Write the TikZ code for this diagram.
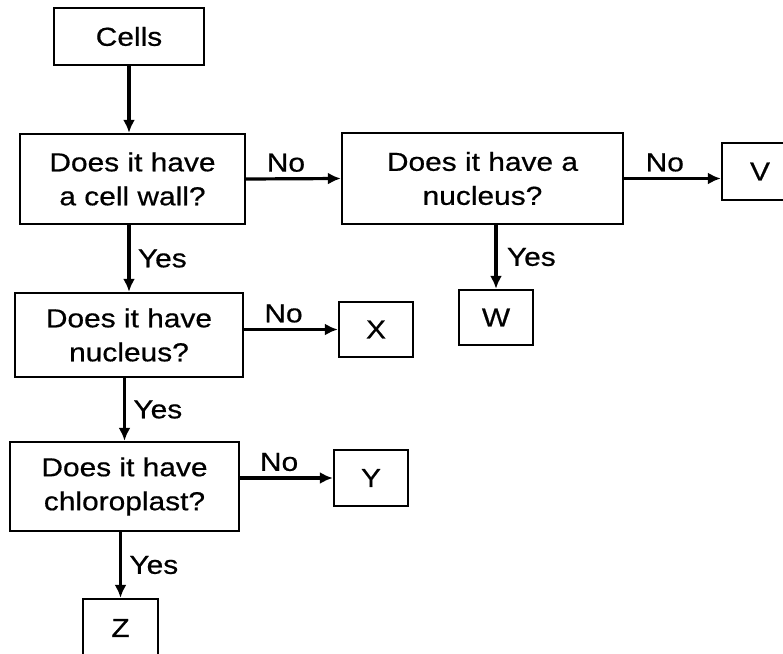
\documentclass[tikz,border=0pt]{standalone}
\usepackage{fontspec}
\setmainfont[FakeStretch=1.15, FakeBold=0.6]{Liberation Sans}
\usetikzlibrary{arrows.meta}

\begin{document}
\begin{tikzpicture}[x=1pt, y=-1pt,
    box/.style={draw, line width=2.4pt, inner sep=0pt, align=center, font=\fontsize{26}{34}\selectfont},
    arr/.style={line width=3.2pt, -{Latex[length=13pt, width=12pt]}},
    lbl/.style={font=\fontsize{26}{30}\selectfont}]
    \clip (0, 0) rectangle (783, 653);

    % Nodes
    \node[box, minimum width=150, minimum height=57] at (129, 36.5) (cells) {Cells};
    \node[box, minimum width=225, minimum height=90] at (132.5, 179) (wall) {Does it have\\a cell wall?};
    \node[box, minimum width=281, minimum height=91] at (482.5, 178.5) (nuc) {Does it have a\\nucleus?};
    \node[box, minimum width=76, minimum height=57] at (760, 171.5) (v) {V};
    \node[box, minimum width=74, minimum height=55] at (496, 317.5) (w) {W};
    \node[box, minimum width=228, minimum height=84] at (129, 335) (nucl) {Does it have\\nucleus?};
    \node[box, minimum width=74, minimum height=55] at (376, 329.5) (x) {X};
    \node[box, minimum width=229, minimum height=89] at (124.5, 486.5) (chl) {Does it have\\chloroplast?};
    \node[box, minimum width=74, minimum height=56] at (371, 478) (y) {Y};
    \node[box, minimum width=75, minimum height=58] at (120.5, 628) (z) {Z};

    % Yes goes down, No goes right
    \draw[arr] (cells) -- (cells.south |- wall.north);
    \draw[arr] (wall.east) -- (nuc.west) node[lbl, above, pos=0.42, yshift=2] {No};
    \draw[arr] (nuc.east) -- (nuc.east -| v.west) node[lbl, above, pos=0.42, yshift=2] {No};
    \draw[arr] (nuc.south -| w.north) -- (w.north) node[lbl, right, midway, xshift=6] {Yes};
    \draw[arr] (wall.south -| nucl.north) -- (nucl.north) node[lbl, right, midway, xshift=4] {Yes};
    \draw[arr] (x.west -| nucl.east) -- (x.west) node[lbl, above, pos=0.42, yshift=2] {No};
    \draw[arr] (nucl.south -| chl.north) -- (chl.north) node[lbl, right, midway, xshift=4] {Yes};
    \draw[arr] (y.west -| chl.east) -- (y.west) node[lbl, above, pos=0.42, yshift=2] {No};
    \draw[arr] (chl.south -| z.north) -- (z.north) node[lbl, right, midway, xshift=4] {Yes};

  \end{tikzpicture}
\end{document}
